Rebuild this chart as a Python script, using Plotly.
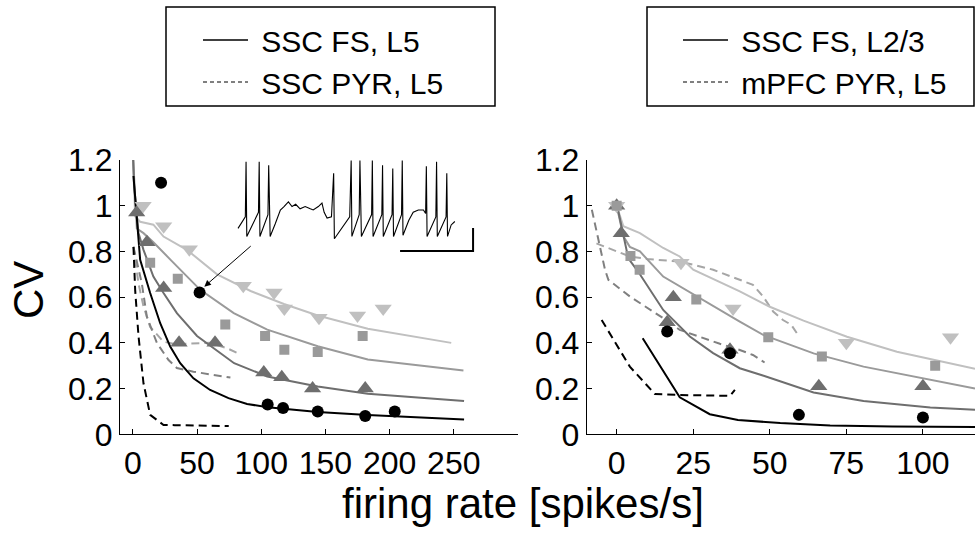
import plotly.graph_objects as go

# ---------------- data: left panel (SSC, L5) ----------------
L_circ_x = [22, 52, 105, 117, 144, 181, 204]
L_circ_y = [1.10, 0.62, 0.13, 0.115, 0.10, 0.08, 0.10]
L_tri_x = [3, 11, 24, 36, 64, 102, 116, 140, 181]
L_tri_y = [0.97, 0.84, 0.64, 0.40, 0.40, 0.27, 0.25, 0.20, 0.20]
L_sq_x = [13.5, 35, 72, 103, 118, 144, 179]
L_sq_y = [0.75, 0.68, 0.48, 0.43, 0.37, 0.36, 0.43]
L_dtri_x = [8, 24, 44, 86, 110, 118, 145, 175, 195]
L_dtri_y = [1.0, 0.91, 0.81, 0.65, 0.62, 0.55, 0.51, 0.52, 0.55]

Lk_x = [0.5, 5.7, 13.5, 21.3, 29.1, 36.9, 47.2, 60.2, 74.5, 89, 105, 144, 183, 235, 258]
Lk_y = [1.13, 0.763, 0.618, 0.486, 0.384, 0.311, 0.245, 0.194, 0.158, 0.133, 0.118, 0.098, 0.084, 0.07, 0.065]
Ld_x = [0.3, 0.9, 4.4, 8.3, 16, 23.9, 34.3, 50, 78.9, 104.7, 144, 183, 258]
Ld_y = [1.2, 1.09, 0.88, 0.807, 0.69, 0.618, 0.53, 0.43, 0.311, 0.253, 0.209, 0.177, 0.146]
Lm_x = [0.3, 3.1, 8.3, 16, 30, 52.5, 78.6, 104.7, 144, 183, 257.5]
Lm_y = [1.2, 0.90, 0.88, 0.84, 0.76, 0.632, 0.53, 0.458, 0.385, 0.327, 0.279]
Ll_x = [0.3, 1.8, 5.7, 16, 23.9, 42.1, 65.6, 91.7, 117.7, 144, 183, 248]
Ll_y = [1.2, 0.953, 0.93, 0.917, 0.865, 0.807, 0.70, 0.627, 0.57, 0.52, 0.462, 0.40]

Lkd_x = [0.5, 1.8, 4.4, 8.3, 13.5, 23.9, 32.6, 50, 74.7]
Lkd_y = [0.82, 0.632, 0.43, 0.223, 0.085, 0.041, 0.04, 0.038, 0.036]
Lgu_x = [0.5, 4.4, 8.3, 13.5, 23.9, 32.6, 60.4, 73.2, 81.5]
Lgu_y = [0.82, 0.66, 0.56, 0.47, 0.405, 0.395, 0.40, 0.377, 0.355]
Lgl_x = [0.5, 7, 10.9, 18.7, 27.8, 34.3, 47.2, 73.2, 76]
Lgl_y = [0.82, 0.66, 0.515, 0.40, 0.325, 0.29, 0.274, 0.252, 0.248]

# ---------------- data: right panel ----------------
R_circ_x = [16.5, 37, 59.5, 100]
R_circ_y = [0.45, 0.355, 0.085, 0.073]
R_tri_x = [0, 1.5, 16.5, 18.5, 37, 66, 100]
R_tri_y = [1.0, 0.88, 0.49, 0.60, 0.37, 0.21, 0.21]
R_sq_x = [0, 4.5, 7.5, 26, 49.5, 67, 104]
R_sq_y = [1.0, 0.78, 0.72, 0.59, 0.425, 0.34, 0.30]
R_dtri_x = [0, 21, 38, 75, 109]
R_dtri_y = [1.0, 0.75, 0.55, 0.40, 0.425]

Rk_x = [8.5, 20.6, 30.4, 39.6, 53.4, 69.7, 90, 117]
Rk_y = [0.42, 0.162, 0.088, 0.063, 0.049, 0.039, 0.034, 0.032]
Rd_x = [0, 3.8, 7, 15.2, 23.9, 31.5, 40.2, 48, 64.3, 80.6, 102.4, 117]
Rd_y = [1.01, 0.77, 0.712, 0.544, 0.428, 0.355, 0.289, 0.256, 0.183, 0.146, 0.117, 0.107]
Rm_x = [0, 2.2, 4.3, 7.6, 15.2, 26.1, 40.2, 48, 64.3, 80.6, 102.4, 117]
Rm_y = [1.0, 0.866, 0.82, 0.80, 0.69, 0.603, 0.493, 0.434, 0.354, 0.296, 0.237, 0.20]
Rl_x = [0, 2.2, 7.6, 15.2, 20.6, 25, 40.2, 50, 61, 75.2, 91.5, 117]
Rl_y = [1.0, 0.91, 0.88, 0.815, 0.778, 0.72, 0.625, 0.558, 0.497, 0.427, 0.361, 0.287]

Rkd_x = [-4.9, 4.3, 12.5, 20.6, 37, 38.6]
Rkd_y = [0.50, 0.296, 0.176, 0.172, 0.168, 0.194]
Rgl_x = [-8.1, -3.8, -2.7, 4.3, 15.2, 20.6, 33.7, 40.2, 44.5, 47.8, 48.3]
Rgl_y = [0.982, 0.72, 0.676, 0.603, 0.508, 0.457, 0.396, 0.369, 0.347, 0.318, 0.314]
Rgu_x = [-6.6, 4.3, 9.8, 20.6, 31.5, 44.5, 47.8, 51.1, 54.3, 57, 59.2]
Rgu_y = [0.835, 0.778, 0.767, 0.756, 0.72, 0.654, 0.603, 0.537, 0.50, 0.479, 0.435]

# ---------------- inset voltage trace (ms, mV) ----------------
trace_t = [0, 10, 11, 12, 28, 29, 30, 41, 42, 44, 51, 58, 63, 69, 74, 79, 85, 92, 99, 103,
           110, 115, 118, 122, 128, 131, 132, 153, 155, 156, 166, 167, 169, 183, 184, 185,
           197, 198, 199, 211, 212, 213, 224, 225, 226, 234, 240, 247, 254, 257, 258, 259,
           271, 272, 273, 285, 286, 287, 292, 297]
trace_v = [-48, -38, 10, -55, -34, 10, -55, -36, 7, -55, -44, -32, -29, -25, -29, -27, -31, -29, -31, -32,
           -29, -26, -34, -39, -38, 0, -57, -38, 11, -55, -36, 11, -55, -36, 11, -55,
           -36, 7, -55, -36, 4, -55, -36, 11, -54, -41, -34, -32, -32, -35, 6, -55,
           -38, 10, -55, -38, 0, -55, -45, -42]
scale_t = [222, 322, 322]
scale_v = [-67.7, -67.7, -47.7]

legend_left = ["SSC FS, L5", "SSC PYR, L5"]
legend_right = ["SSC FS, L2/3", "mPFC PYR, L5"]

# ---------------- styles ----------------
BLACK = "#000000"
DARK = "#6e6e6e"
MED = "#9a9a9a"
LIGHT = "#c0c0c0"
DASH_DARK = "#808080"
DASH_LIGHT = "#a6a6a6"
FONT = "Liberation Sans, Arial, sans-serif"
W, H = 975, 543

fig = go.Figure()


def line(x, y, color, xa, ya, dash=None, width=2):
    fig.add_trace(go.Scatter(x=x, y=y, mode="lines", xaxis=xa, yaxis=ya,
                             line=dict(color=color, width=width, dash=dash),
                             showlegend=False, hoverinfo="skip"))


def marks(x, y, color, symbol, size, xa, ya):
    fig.add_trace(go.Scatter(x=x, y=y, mode="markers", xaxis=xa, yaxis=ya,
                             marker=dict(color=color, symbol=symbol, size=size,
                                         line=dict(width=0)),
                             showlegend=False, hoverinfo="skip"))


DSH = "8px,5px"
# left panel
line(Lgu_x, Lgu_y, DASH_LIGHT, "x", "y", DSH)
line(Lgl_x, Lgl_y, DASH_DARK, "x", "y", DSH)
line(Lkd_x, Lkd_y, BLACK, "x", "y", DSH)
line(Ll_x, Ll_y, LIGHT, "x", "y")
line(Lm_x, Lm_y, MED, "x", "y")
line(Ld_x, Ld_y, DARK, "x", "y")
line(Lk_x, Lk_y, BLACK, "x", "y")
marks(L_dtri_x, L_dtri_y, LIGHT, "triangle-down", 15, "x", "y")
marks(L_sq_x, L_sq_y, MED, "square", 10, "x", "y")
marks(L_tri_x, L_tri_y, DARK, "triangle-up", 15, "x", "y")
marks(L_circ_x, L_circ_y, BLACK, "circle", 12, "x", "y")

# right panel
line(Rgu_x, Rgu_y, DASH_LIGHT, "x2", "y2", DSH)
line(Rgl_x, Rgl_y, DASH_DARK, "x2", "y2", DSH)
line(Rkd_x, Rkd_y, BLACK, "x2", "y2", DSH)
line(Rl_x, Rl_y, LIGHT, "x2", "y2")
line(Rm_x, Rm_y, MED, "x2", "y2")
line(Rd_x, Rd_y, DARK, "x2", "y2")
line(Rk_x, Rk_y, BLACK, "x2", "y2")
marks(R_tri_x, R_tri_y, DARK, "triangle-up", 15, "x2", "y2")
marks(R_dtri_x, R_dtri_y, LIGHT, "triangle-down", 15, "x2", "y2")
marks(R_sq_x, R_sq_y, MED, "square", 10, "x2", "y2")
marks(R_circ_x, R_circ_y, BLACK, "circle", 12, "x2", "y2")

# inset
line(trace_t, trace_v, BLACK, "x3", "y3", None, 1.1)
line(scale_t, scale_v, BLACK, "x3", "y3", None, 2)

# legend entries
for names, lg in ((legend_left, "legend"), (legend_right, "legend2")):
    fig.add_trace(go.Scatter(x=[None], y=[None], mode="lines", name=" " + names[0],
                             line=dict(color=BLACK, width=1.5), legend=lg))
    fig.add_trace(go.Scatter(x=[None], y=[None], mode="lines", name=" " + names[1],
                             line=dict(color=BLACK, width=1, dash="4px,3px"), legend=lg))

ydom = [1 - 434.3 / H, 1 - 160 / H]
axis_common = dict(showline=True, linecolor="black", linewidth=1, ticks="inside",
                   ticklen=5, tickcolor="black", tickwidth=1, showgrid=False,
                   zeroline=False, tickfont=dict(family=FONT, size=32, color="black"),
                   automargin=False)
yticks = [0, 0.2, 0.4, 0.6, 0.8, 1, 1.2]
ytext = ["0", "0.2", "0.4", "0.6", "0.8", "1", "1.2"]

legend_style = dict(xanchor="left", yanchor="top",
                    font=dict(family=FONT, size=30, color="black"),
                    bgcolor="rgba(0,0,0,0)", borderwidth=0, itemwidth=45, tracegroupgap=0)

fig.update_layout(
    width=W, height=H, margin=dict(l=0, r=0, t=0, b=0),
    paper_bgcolor="white", plot_bgcolor="white",
    font=dict(family=FONT, color="black"),
    xaxis=dict(domain=[120 / W, 518 / W], range=[-10, 300],
               tickvals=[0, 50, 100, 150, 200, 250], anchor="y", **axis_common),
    yaxis=dict(domain=ydom, range=[0, 1.2], tickvals=yticks, ticktext=ytext, anchor="x",
               **axis_common),
    xaxis2=dict(domain=[586.8 / W, 1.0], range=[-9.75, 117], tickvals=[0, 25, 50, 75, 100],
                anchor="y2", **axis_common),
    yaxis2=dict(domain=ydom, range=[0, 1.2], tickvals=yticks, ticktext=ytext, anchor="x2",
                **axis_common),
    xaxis3=dict(domain=[230 / W, 480 / W], range=[-11, 331.5], visible=False,
                anchor="y3", fixedrange=True),
    yaxis3=dict(domain=[1 - 260 / H, 1 - 150 / H], range=[-75.5, 20.2], visible=False,
                anchor="x3", fixedrange=True),
    showlegend=True,
    legend=dict(x=198 / W, y=1 - 14 / H, **legend_style),
    legend2=dict(x=678 / W, y=1 - 14 / H, **legend_style),
    shapes=[
        dict(type="rect", xref="paper", yref="paper", x0=166 / W, x1=495 / W,
             y0=1 - 106 / H, y1=1 - 7 / H, line=dict(color="black", width=1.5)),
        dict(type="rect", xref="paper", yref="paper", x0=647 / W, x1=974 / W,
             y0=1 - 106 / H, y1=1 - 7 / H, line=dict(color="black", width=1.5)),
    ],
    annotations=[
        dict(x=55.7, y=0.646, xref="x", yref="y", ax=93, ay=0.829, axref="x", ayref="y",
             showarrow=True, arrowhead=2, arrowsize=1.3, arrowwidth=1, arrowcolor="black",
             text=""),
        dict(text="CV", x=28 / W, y=1 - 290 / H, xref="paper", yref="paper",
             showarrow=False, textangle=-90, font=dict(family=FONT, size=42, color="black"),
             xanchor="center", yanchor="middle"),
        dict(text="firing rate [spikes/s]", x=523 / W, y=1 - 503 / H, xref="paper",
             yref="paper", showarrow=False, font=dict(family=FONT, size=42, color="black"),
             xanchor="center", yanchor="middle"),
    ],
)

fig.write_html("out.html")
